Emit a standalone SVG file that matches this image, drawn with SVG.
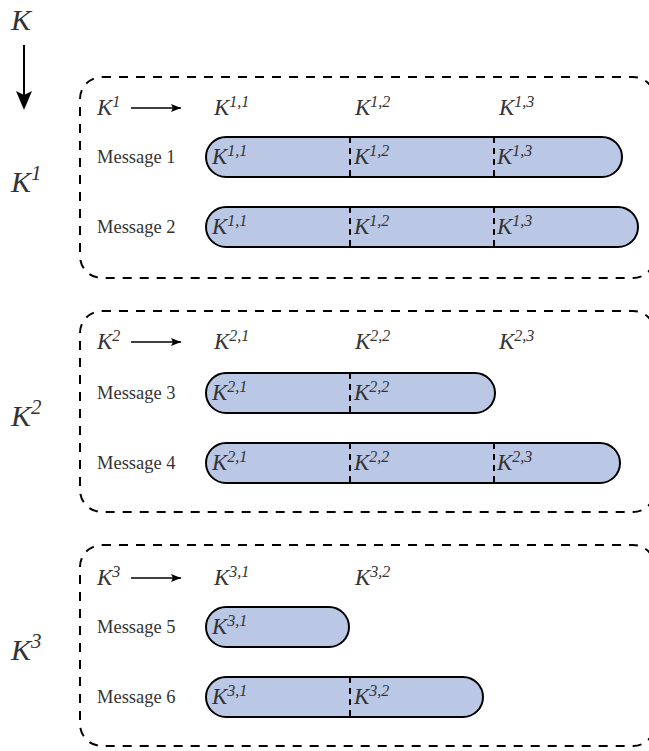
<svg xmlns="http://www.w3.org/2000/svg" width="649" height="751" viewBox="0 0 649 751">
<defs>
<style>
.box{fill:none;stroke:#000;stroke-width:2;stroke-dasharray:9 8}
.pill{fill:#bac7e5;stroke:#000;stroke-width:2}
.div{stroke:#000;stroke-width:2;stroke-dasharray:6 5}
.k{font-family:"Liberation Serif","Times New Roman",serif;font-style:italic;font-size:23px;fill:#333}
.sup{font-size:16px}
.big{font-family:"Liberation Serif","Times New Roman",serif;font-style:italic;font-size:30px;fill:#333}
.bsup{font-size:21px}
.msg{font-family:"Liberation Serif","Times New Roman",serif;font-size:18.5px;fill:#333}
.arr{stroke:#000;stroke-width:1.3;fill:none}
</style>
<marker id="ah" viewBox="0 0 10 8" refX="10" refY="4" markerWidth="10" markerHeight="8" markerUnits="userSpaceOnUse" orient="auto">
<path d="M0,0 L10,4 L0,8 L2,4 Z" fill="#000"/>
</marker>
</defs>

<g id="top-K">
<text class="big" x="11" y="30">K</text>
</g>
<g id="connectors">
<line x1="24" y1="45" x2="24" y2="98" stroke="#000" stroke-width="2"/>
<path d="M16,91 L24,110 L32,91 L24,95 Z" fill="#000"/>
<line class="arr" x1="131" y1="108" x2="181" y2="108" marker-end="url(#ah)"/>
<line class="arr" x1="131" y1="342" x2="181" y2="342" marker-end="url(#ah)"/>
<line class="arr" x1="131" y1="578" x2="181" y2="578" marker-end="url(#ah)"/>
</g>

<g id="group1">
<rect class="box" x="80" y="77" width="575" height="201" rx="22"/>
<text class="big" x="11" y="192">K<tspan class="bsup" dy="-12">1</tspan></text>
<text class="k" x="97" y="115">K<tspan class="sup" dy="-8">1</tspan></text>
<text class="k" x="214" y="115">K<tspan class="sup" dy="-8">1,1</tspan></text>
<text class="k" x="355" y="115">K<tspan class="sup" dy="-8">1,2</tspan></text>
<text class="k" x="499" y="115">K<tspan class="sup" dy="-8">1,3</tspan></text>
</g>
<g id="message1">
<text class="msg" x="97" y="163">Message 1</text>
<rect class="pill" x="206" y="137" width="416" height="40" rx="20"/>
<line class="div" x1="350" y1="137" x2="350" y2="177"/>
<line class="div" x1="494" y1="137" x2="494" y2="177"/>
<text class="k" x="212" y="164">K<tspan class="sup" dy="-8">1,1</tspan></text>
<text class="k" x="354" y="164">K<tspan class="sup" dy="-8">1,2</tspan></text>
<text class="k" x="497" y="164">K<tspan class="sup" dy="-8">1,3</tspan></text>
</g>
<g id="message2">
<text class="msg" x="97" y="233">Message 2</text>
<rect class="pill" x="206" y="207" width="432" height="40" rx="20"/>
<line class="div" x1="350" y1="207" x2="350" y2="247"/>
<line class="div" x1="494" y1="207" x2="494" y2="247"/>
<text class="k" x="212" y="234">K<tspan class="sup" dy="-8">1,1</tspan></text>
<text class="k" x="354" y="234">K<tspan class="sup" dy="-8">1,2</tspan></text>
<text class="k" x="497" y="234">K<tspan class="sup" dy="-8">1,3</tspan></text>
</g>

<g id="group2">
<rect class="box" x="80" y="311" width="575" height="201" rx="22"/>
<text class="big" x="11" y="426">K<tspan class="bsup" dy="-12">2</tspan></text>
<text class="k" x="97" y="349">K<tspan class="sup" dy="-8">2</tspan></text>
<text class="k" x="214" y="349">K<tspan class="sup" dy="-8">2,1</tspan></text>
<text class="k" x="355" y="349">K<tspan class="sup" dy="-8">2,2</tspan></text>
<text class="k" x="499" y="349">K<tspan class="sup" dy="-8">2,3</tspan></text>
</g>
<g id="message3">
<text class="msg" x="97" y="399">Message 3</text>
<rect class="pill" x="206" y="373" width="289" height="40" rx="20"/>
<line class="div" x1="350" y1="373" x2="350" y2="413"/>
<text class="k" x="212" y="400">K<tspan class="sup" dy="-8">2,1</tspan></text>
<text class="k" x="354" y="400">K<tspan class="sup" dy="-8">2,2</tspan></text>
</g>
<g id="message4">
<text class="msg" x="97" y="469">Message 4</text>
<rect class="pill" x="206" y="443" width="414" height="40" rx="20"/>
<line class="div" x1="350" y1="443" x2="350" y2="483"/>
<line class="div" x1="494" y1="443" x2="494" y2="483"/>
<text class="k" x="212" y="470">K<tspan class="sup" dy="-8">2,1</tspan></text>
<text class="k" x="354" y="470">K<tspan class="sup" dy="-8">2,2</tspan></text>
<text class="k" x="497" y="470">K<tspan class="sup" dy="-8">2,3</tspan></text>
</g>

<g id="group3">
<rect class="box" x="80" y="545" width="575" height="201" rx="22"/>
<text class="big" x="11" y="660">K<tspan class="bsup" dy="-12">3</tspan></text>
<text class="k" x="97" y="585">K<tspan class="sup" dy="-8">3</tspan></text>
<text class="k" x="214" y="585">K<tspan class="sup" dy="-8">3,1</tspan></text>
<text class="k" x="355" y="585">K<tspan class="sup" dy="-8">3,2</tspan></text>
</g>
<g id="message5">
<text class="msg" x="97" y="633">Message 5</text>
<rect class="pill" x="206" y="607" width="143" height="40" rx="20"/>
<text class="k" x="212" y="634">K<tspan class="sup" dy="-8">3,1</tspan></text>
</g>
<g id="message6">
<text class="msg" x="97" y="703">Message 6</text>
<rect class="pill" x="206" y="677" width="277" height="40" rx="20"/>
<line class="div" x1="350" y1="677" x2="350" y2="717"/>
<text class="k" x="212" y="704">K<tspan class="sup" dy="-8">3,1</tspan></text>
<text class="k" x="354" y="704">K<tspan class="sup" dy="-8">3,2</tspan></text>
</g>
</svg>
